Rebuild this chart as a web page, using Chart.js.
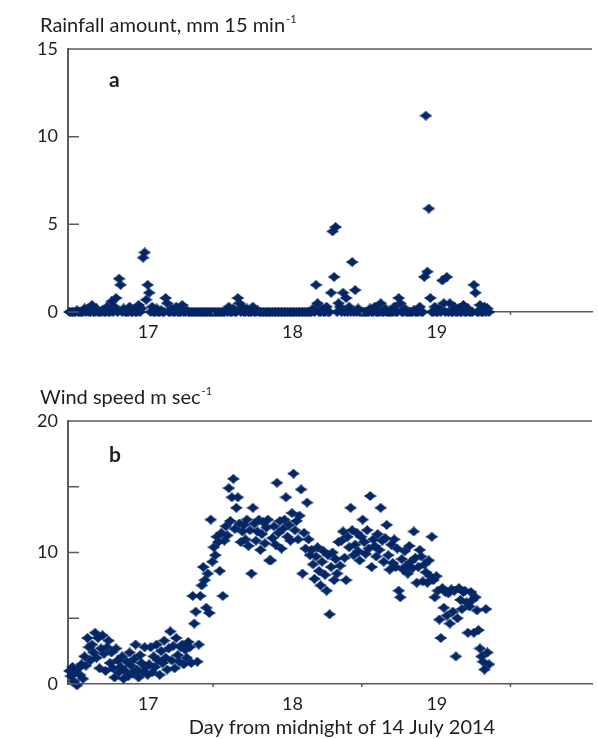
<!DOCTYPE html>
<html>
<head>
<meta charset="utf-8">
<script src="https://cdn.jsdelivr.net/npm/chart.js@4.4.1/dist/chart.umd.min.js"></script>
<style>
  body { margin: 0; background: #fff; width: 598px; height: 739px; overflow: hidden; position: relative; }
  .panel { position: absolute; left: 0; width: 598px; height: 367px; }
</style>
</head>
<body>
<div class="panel" style="top:0"><canvas id="chart_rain"></canvas></div>
<div class="panel" style="top:372px"><canvas id="chart_wind"></canvas></div>
<script>
// 15-minute readings, day counted from midnight of 14 July 2014
var startDay = 16.455
var stepDay = 1 / 96

var dayLabels = [17, 18, 19]
var dayMarks = [17.45, 18.48, 19.51]

// rainfall, mm per 15 min
var rain = [
  0,0,0,0,0,0.1,0,0,0,0, 0.2,0,0.1,0,0,0.4,0,0,0.2,0,
  0,0,0.1,0,0,0.3,0,0,0.6,0, 0.3,0.8,0,1.9,1.55,0,0.2,0,0,0,
  0.3,0,0,0.1,0,0,0.4,0,0.2,3.1, 3.4,0.7,1.55,1.1,0,0.3,0,0,0.2,0,
  0,0.1,0,0,0.8,0.5,0,0,0.2,0, 0,0.3,0,0,0,0.4,0,0,0.1,0,
  0,0,0,0,0,0,0,0,0,0, 0,0,0,0,0,0,0,0,0,0,
  0,0,0,0,0.1,0,0.3,0,0,0.2, 0,0,0.8,0.5,0,0.3,0,0,0.2,0,
  0,0,0.3,0,0,0.1,0,0,0,0, 0,0,0,0,0,0,0,0,0,0,
  0,0,0,0,0,0,0,0,0,0, 0,0,0,0,0,0,0,0,0,0,
  0,0,0.2,0,1.55,0.5,0,0,0.2,0, 0,0.3,0,0,1.1,4.6,2.0,4.85,0,0.5,
  0.3,0,1.1,0,0.8,0,0.3,0,2.85,0, 1.25,0,0.2,0,0,0,0,0,0,0,
  0.2,0,0,0.3,0,0,0,0.5,0,0, 0.2,0,0,0,0,0,0.3,0,0,0.8,
  0.5,0,0,0.2,0,0,0,0,0,0.1, 0,0,0,0.3,0,0,2.0,11.2,2.3,5.9,
  0.8,0,0,0.3,0,0,0.2,0,1.8,0.5, 0,2.0,0,0.5,0,0,0.3,0,0,0.2,
  0,0,0.4,0,0,0.2,0,0,0,1.55, 1.1,0,0,0.4,0,0,0.3,0,0.2,0
]

// wind speed, m per sec
var wind = [
  1.0,0.6,1.3,0.2,0.9,-0.1,1.2,0.7,1.5,0.4,
  2.1,1.4,3.5,2.8,1.8,3.0,2.4,3.9,2.0,3.5,1.2,2.7,3.7,2.3,1.0,2.8,3.3,1.6,2.4,
  1.2,0.5,2.7,1.8,0.9,1.3,2.1,0.4,1.0,1.7,0.6,2.4,1.4,0.8,1.9,3.0,1.1,0.5,2.2,1.6,0.9,2.8,1.3,0.7,
  1.5,2.8,0.9,2.1,1.3,3.0,1.8,0.7,2.5,1.6,3.3,2.0,1.1,2.7,4.0,1.8,2.9,1.2,3.5,2.2,1.7,2.8,3.0,1.5,2.6,2.0,3.2,2.8,1.6,
  6.7,4.6,5.5,1.7,3.0,6.7,7.5,8.9,7.9,5.8,8.4,5.4,12.5,9.3,10.4,9.8,11.2,10.8,8.6,
  11.5,6.7,10.9,12.0,11.3,14.9,12.4,14.2,15.6,11.8,13.4,14.2,12.2,10.8,11.6,
  12.1,11.0,12.5,10.5,11.7,8.4,13.4,12.2,10.9,11.6,12.5,10.2,11.4,12.3,10.7,
  11.9,12.5,9.4,9.4,11.1,12.0,10.6,15.3,11.5,12.4,10.3,11.8,12.5,14.2,11.2,
  12.1,10.9,13.0,16.0,11.7,12.4,11.0,12.8,14.8,8.4,11.5,10.3,13.8,11.0,9.8,
  10.2,9.1,8.0,9.7,10.4,8.6,7.5,9.3,10.1,8.3,7.1,9.8,5.3,8.9,10.0,7.9,9.5,8.4,10.8,9.0,
  10.9,11.6,9.6,7.9,11.2,10.4,13.4,11.7,9.8,10.6,11.5,10.1,9.4,11.2,12.5,
  10.8,9.9,11.7,10.3,14.3,8.9,11.0,10.5,9.7,11.4,10.2,13.4,10.9,9.3,11.1,
  12.1,9.8,8.7,10.6,9.2,11.0,8.9,10.3,7.1,6.6,9.5,8.7,10.1,9.0,8.4,
  10.5,9.3,8.8,11.6,9.6,7.7,8.9,10.2,9.7,7.8,9.1,8.5,7.7,9.4,8.2,
  11.2,7.9,6.6,8.2,7.1,4.9,3.5,7.3,5.8,7.0,5.2,6.9,4.6,7.2,5.5,7.1,2.1,5.0,7.3,6.4,5.7,7.0,
  7.1,6.2,3.9,5.9,7.0,6.4,3.9,6.6,5.6,4.1,2.7,2.1,1.7,1.1,5.7,2.4,1.5
]

var markColor = '#062766'
var axisColor = '#5a5a5a'
var textColor = '#1e1e1e'
var fontName = 'Lato'

function pairs(values) {
  return values.map(function (v, i) { return { x: startDay + i * stepDay, y: v } })
}

// little pinched diamond like the spreadsheet marker
function diamondMarker() {
  var c = document.createElement('canvas')
  c.width = 13
  c.height = 10
  var g = c.getContext('2d')
  g.fillStyle = markColor
  g.beginPath()
  g.moveTo(0, 5)
  g.quadraticCurveTo(3.9, 3.1, 6.5, 0)
  g.quadraticCurveTo(9.1, 3.1, 13, 5)
  g.quadraticCurveTo(9.1, 6.9, 6.5, 10)
  g.quadraticCurveTo(3.9, 6.9, 0, 5)
  g.fill()
  return c
}
var marker = diamondMarker()

var decor = {
  id: 'decor',
  afterDraw: function (chart, args, opts) {
    var ctx = chart.ctx
    var a = chart.chartArea
    var x = chart.scales.x
    var y = chart.scales.y
    ctx.save()
    ctx.strokeStyle = axisColor
    ctx.lineWidth = 1.5
    ctx.beginPath()
    ctx.moveTo(a.left, a.top)
    ctx.lineTo(a.right, a.top)
    y.ticks.forEach(function (t) {
      var py = y.getPixelForValue(t.value)
      ctx.moveTo(a.left, py)
      ctx.lineTo(a.left + 11, py)
    })
    dayMarks.forEach(function (d) {
      var px = x.getPixelForValue(d)
      ctx.moveTo(px, a.bottom)
      ctx.lineTo(px, a.bottom + 3)
    })
    ctx.stroke()

    ctx.fillStyle = textColor
    ctx.textBaseline = 'alphabetic'
    ctx.textAlign = 'left'
    ctx.font = '20px ' + fontName
    ctx.fillText(opts.title, 40, 32)
    var w = ctx.measureText(opts.title).width
    ctx.font = '11px ' + fontName
    ctx.fillText(opts.sup, 40 + w + 1, 23)

    ctx.font = 'bold 21px ' + fontName
    ctx.fillText(opts.letter, 109, opts.letterY)

    if (opts.xTitle) {
      ctx.font = '20px ' + fontName
      ctx.textAlign = 'center'
      ctx.fillText(opts.xTitle, 342, 362)
    }
    ctx.restore()
  }
}

function makeOptions(yMax, showLabel, plot) {
  return {
    responsive: true,
    maintainAspectRatio: false,
    animation: false,
    layout: { padding: { top: 49, left: 0, right: 0, bottom: 0 } },
    plugins: { legend: { display: false }, tooltip: { enabled: false }, decor: plot },
    scales: {
      x: {
        type: 'linear',
        min: 16.445,
        max: 20.075,
        afterBuildTicks: function (s) { s.ticks = dayLabels.map(function (v) { return { value: v } }) },
        afterFit: function (s) { s.height = 55 },
        grid: { drawOnChartArea: false, drawTicks: false },
        border: { color: axisColor, width: 1.5 },
        ticks: { padding: 9, color: textColor, font: { family: fontName, size: 18 } }
      },
      y: {
        min: 0,
        max: yMax,
        afterFit: function (s) { s.width = 68 },
        grid: { drawOnChartArea: false, drawTicks: false },
        border: { color: axisColor, width: 2 },
        ticks: {
          stepSize: 5,
          padding: 10,
          color: textColor,
          font: { family: fontName, size: 18 },
          callback: function (v) { return showLabel(v) ? String(v) : '' }
        }
      }
    }
  }
}

var chart_rain = new Chart(document.getElementById('chart_rain'), {
  type: 'scatter',
  data: {
    datasets: [{
      data: pairs(rain),
      pointStyle: marker,
      pointRadius: 5,
      clip: false
    }]
  },
  options: makeOptions(15, function () { return true },
    { title: 'Rainfall amount, mm 15 min', sup: '-1', letter: 'a', letterY: 87 }),
  plugins: [decor]
})

var chart_wind = new Chart(document.getElementById('chart_wind'), {
  type: 'scatter',
  data: {
    datasets: [{
      data: pairs(wind),
      pointStyle: marker,
      pointRadius: 5,
      clip: false
    }]
  },
  options: makeOptions(20, function (v) { return v % 10 === 0 },
    { title: 'Wind speed m sec', sup: '-1', letter: 'b', letterY: 90, xTitle: 'Day from midnight of 14 July 2014' }),
  plugins: [decor]
})
</script>
</body>
</html>
